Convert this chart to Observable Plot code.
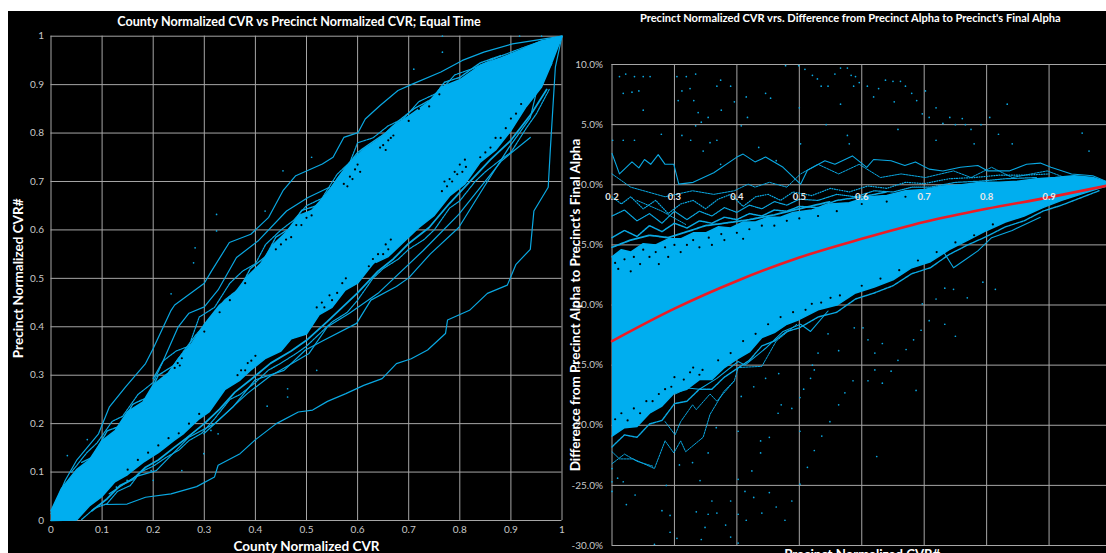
<!DOCTYPE html>
<html><head><meta charset="utf-8">
<script src="https://cdn.jsdelivr.net/npm/d3@7"></script>
<script src="https://cdn.jsdelivr.net/npm/@observablehq/plot@0.6"></script>
<style>
html,body{margin:0;padding:0;background:#fff;overflow:hidden}
#wrap{position:relative;width:1106px;height:553px;overflow:hidden}
#a,#b{position:absolute;top:11px}
#a{left:8px}#b{left:567px}
svg{display:block;font-family:Lato,"Open Sans",sans-serif}
</style></head><body><div id="wrap"><div id="a"></div><div id="b"></div></div>
<script>
const BLUE="#00aeef", DOT="#0aa8e2", GRID="#a6a6a6", LABEL="#c8c8c8";
// ---- left panel ----
const leftTicks=[0,.1,.2,.3,.4,.5,.6,.7,.8,.9,1];
const leftMassTop=[[0,.02],[.02,.065],[.05,.105],[.075,.125],[.1,.165],[.125,.185],[.15,.225],[.18,.245],[.2,.28],[.23,.305],[.25,.335],[.275,.365],[.3,.405],[.33,.445],[.36,.47],[.385,.505],[.41,.53],[.435,.57],[.46,.595],[.485,.63],[.51,.64],[.54,.675],[.56,.705],[.59,.745],[.61,.765],[.645,.79],[.67,.815],[.7,.835],[.74,.865],[.765,.895],[.8,.91],[.84,.94],[.88,.955],[.92,.972],[.96,.99],[1,1]];
const leftMassBottom=[[0,0],[.05,.001],[.075,.03],[.1,.05],[.125,.08],[.15,.095],[.18,.12],[.21,.14],[.24,.165],[.26,.18],[.29,.21],[.31,.225],[.34,.27],[.37,.29],[.39,.31],[.42,.335],[.45,.35],[.47,.375],[.5,.385],[.525,.425],[.55,.44],[.575,.475],[.6,.49],[.63,.53],[.66,.545],[.69,.575],[.72,.605],[.75,.63],[.78,.67],[.81,.695],[.84,.74],[.87,.765],[.9,.805],[.93,.855],[.96,.895],[.98,.945],[1,1]];
const leftU1=[[.04,.1],[.07,.14],[.09,.16],[.12,.205],[.14,.215],[.17,.26],[.2,.285],[.22,.33],[.245,.35],[.27,.36],[.29,.42],[.32,.44],[.35,.49],[.375,.515],[.4,.53],[.42,.57],[.45,.6],[.475,.62],[.5,.65],[.53,.665],[.56,.715],[.585,.74],[.6,.78],[.63,.79],[.66,.815],[.69,.83],[.72,.865],[.76,.885],[.79,.92],[.83,.935],[.87,.955],[.92,.975],[.96,.99]];
const leftU2=[[.06,.12],[.08,.13],[.11,.185],[.135,.195],[.16,.24],[.19,.255],[.21,.3],[.24,.32],[.26,.35],[.285,.385],[.31,.415],[.34,.455],[.37,.48],[.39,.52],[.42,.545],[.44,.585],[.47,.605],[.49,.64],[.52,.65],[.55,.69],[.57,.72],[.6,.76],[.62,.775],[.655,.8],[.68,.825],[.71,.85],[.745,.87],[.77,.905],[.8,.915],[.84,.945],[.88,.96]];
const leftL1=[[.06,.002],[.085,.025],[.11,.035],[.13,.06],[.155,.072],[.175,.1],[.2,.112],[.225,.13],[.25,.145],[.27,.165],[.295,.18],[.32,.21],[.35,.25],[.37,.26],[.4,.285],[.425,.31],[.45,.325],[.48,.345],[.5,.36],[.53,.39],[.55,.41],[.58,.43],[.6,.455],[.63,.5],[.65,.52],[.68,.54],[.7,.56],[.73,.58],[.75,.6],[.78,.645],[.8,.66],[.83,.7],[.85,.72],[.88,.745],[.9,.76],[.93,.81],[.95,.84],[.975,.89]];
const leftL3=[[.08,.02],[.11,.045],[.135,.072],[.16,.085],[.185,.11],[.21,.125],[.24,.15],[.265,.17],[.3,.2],[.33,.23],[.36,.265],[.39,.29],[.43,.325],[.47,.35],[.5,.372],[.54,.41],[.57,.44],[.6,.47],[.64,.515],[.67,.54],[.7,.572],[.74,.605],[.78,.655],[.82,.7],[.86,.745],[.9,.785],[.94,.84],[.97,.89]];
const leftSpecks=[[.765,.68],[.77,.7],[.775,.69],[.78,.705],[.785,.7],[.79,.72],[.795,.715],[.8,.735],[.805,.72],[.81,.745],[.812,.73],[.622,.525],[.63,.54],[.635,.53],[.64,.55],[.65,.55],[.655,.57],[.66,.56],[.665,.58],[.365,.3],[.372,.31],[.38,.31],[.385,.325],[.392,.33],[.4,.34],[.52,.44],[.53,.45],[.535,.44],[.545,.465],[.55,.455],[.56,.47],[.57,.49],[.577,.5],[.573,.695],[.58,.69],[.585,.71],[.59,.705],[.595,.725],[.6,.735],[.605,.72],[.644,.77],[.65,.775],[.655,.765],[.66,.785],[.665,.79],[.67,.795],[.242,.315],[.248,.325],[.252,.32],[.256,.335],[.44,.56],[.45,.57],[.46,.58],[.47,.585],[.48,.61],[.49,.61],[.5,.625],[.51,.63],[.84,.75],[.85,.76],[.86,.77],[.87,.79],[.88,.79],[.89,.81],[.9,.83],[.91,.84],[.92,.86],[.15,.105],[.17,.125],[.19,.14],[.21,.155],[.23,.17],[.25,.18],[.27,.2],[.29,.22],[.7,.825],[.72,.85],[.74,.855],[.76,.88],[.33,.43],[.3,.39],[.35,.455],[.38,.49]];
const leftLineA=[[0,.014],[.028,.083],[.05,.124],[.093,.179],[.114,.234],[.146,.276],[.185,.324],[.2,.355],[.235,.434],[.242,.445],[.3,.49],[.314,.515],[.349,.574],[.391,.591],[.426,.626],[.454,.681],[.479,.712],[.531,.736],[.552,.75],[.573,.791],[.601,.801],[.615,.829],[.644,.857],[.679,.888],[.707,.901],[.763,.926],[.805,.95],[.847,.967],[.903,.984],[1,1]];
const leftLineB=[[.107,.033],[.149,.034],[.185,.048],[.235,.055],[.285,.07],[.32,.09],[.327,.114],[.37,.138],[.399,.166],[.441,.2],[.484,.224],[.512,.228],[.541,.246],[.577,.262],[.612,.279],[.648,.293],[.676,.324],[.705,.334],[.737,.352],[.772,.386],[.776,.414],[.819,.434],[.854,.469],[.893,.486],[.91,.529],[.938,.56],[.945,.639],[.973,.688],[.977,.763],[.987,.936],[1,1]];
const leftLineC=[[.2,.293],[.22,.331],[.249,.4],[.27,.428],[.3,.441],[.327,.476],[.363,.543],[.405,.577],[.461,.639],[.503,.667],[.545,.688]];
const leftLineD=[[.299,.179],[.356,.234],[.399,.29],[.456,.31],[.498,.352],[.534,.372],[.598,.407],[.626,.455],[.676,.483],[.7,.501],[.742,.55],[.798,.605],[.847,.688],[.896,.77],[.938,.832],[.952,.894],[.98,.943]];
const leftLineE=[[.114,.055],[.164,.09],[.206,.103],[.27,.172],[.32,.2],[.384,.262],[.427,.297],[.505,.345],[.541,.4],[.584,.428],[.64,.469],[.728,.557],[.798,.632],[.882,.743],[.938,.791]];
const leftDots=[[.282,.563],[.324,.632],[.279,.532],[.454,.722],[.51,.75],[.766,.967],[.766,1],[.71,.932],[.419,.639],[.324,.598],[.917,1],[.96,1],[.235,.468],[.032,.134],[.071,.167],[.463,.272],[.463,.255],[.423,.236],[.299,.138],[.256,.103],[.2,.083],[.196,.103],[.149,.083],[.327,.179],[.313,.186],[.52,.31],[.128,.069]];
// ---- right panel ----
const rightXTicks=[.2,.3,.4,.5,.6,.7,.8,.9,1];
const rightXLabels=[.2,.3,.4,.5,.6,.7,.8,.9];
const rightYTicks=[10,5,0,-5,-10,-15,-20,-25,-30];
const rightMassTop=[[.2,-6],[.215,-5.4],[.23,-5.6],[.25,-4.9],[.27,-5],[.29,-4.5],[.31,-4.5],[.33,-4],[.35,-4],[.37,-3.5],[.39,-3.6],[.41,-3.1],[.43,-3.1],[.45,-2.7],[.47,-2.7],[.49,-2.3],[.52,-2.1],[.55,-1.6],[.58,-1.5],[.61,-1],[.64,-.9],[.67,-.5],[.7,-.4],[.73,-.1],[.76,0],[.79,.2],[.82,.2],[.85,.3],[.88,.5],[.91,.6],[.94,.75],[.97,.6],[1,.1]];
const rightMassBottom=[[.2,-20.9],[.22,-20.2],[.24,-20.1],[.26,-19],[.28,-18.4],[.3,-17.3],[.32,-17],[.34,-16.2],[.36,-16.2],[.38,-15.2],[.4,-14.5],[.42,-13.9],[.44,-12.7],[.46,-12.3],[.48,-11.6],[.5,-11.2],[.53,-10.4],[.56,-10],[.59,-9],[.62,-8.5],[.65,-7.9],[.68,-6.9],[.71,-6.4],[.74,-5.4],[.77,-4.6],[.8,-3.8],[.83,-3.1],[.86,-2.6],[.89,-1.9],[.92,-1.3],[.95,-.8],[.98,-.3],[1,0]];
const redX=[.2,.3,.4,.5,.6,.7,.8,.9,1];
const redY=[-13,-10.3,-8,-6.05,-4.5,-3.1,-2,-1.05,0];
const rightSpecks=[[.205,-6.5],[.21,-7],[.22,-6.2],[.23,-7.2],[.235,-6],[.245,-6.6],[.25,-5.4],[.26,-6],[.27,-5.6],[.275,-6.6],[.285,-5.2],[.29,-6],[.3,-5],[.31,-5.6],[.32,-5],[.33,-4.6],[.34,-5.2],[.355,-4.4],[.36,-5],[.375,-4.1],[.38,-4.6],[.4,-4],[.41,-4.5],[.42,-3.7],[.44,-3.4],[.46,-3.4],[.48,-3],[.5,-2.8],[.53,-2.6],[.56,-2.2],[.6,-1.6],[.64,-1.4],[.67,-1],[.205,-19.5],[.215,-19],[.225,-19.6],[.235,-18.6],[.245,-19],[.255,-18],[.265,-18],[.275,-17.4],[.285,-17],[.295,-16.8],[.3,-16],[.315,-16.2],[.325,-15.6],[.33,-15.2],[.34,-15.8],[.345,-15.4],[.37,-14.6],[.39,-14],[.41,-13],[.43,-12.4],[.45,-11.6],[.47,-11],[.49,-10.6],[.51,-10.4],[.52,-9.9],[.535,-9.8],[.55,-9.4],[.565,-9.2],[.6,-8.4],[.63,-7.8],[.66,-7.1],[.69,-6.3],[.72,-5.6],[.75,-4.8],[.78,-4.2],[.81,-3.3]];
const rightU1=[[.2,-1],[.215,-1.6],[.23,-1],[.25,-2],[.27,-1.3],[.29,-2.4],[.31,-1.6],[.33,-1.3],[.35,-2],[.37,-1.2],[.39,-.8],[.41,-1.8],[.43,-1],[.45,-.8],[.47,-1.3],[.49,-.6],[.52,-.9],[.55,-.3],[.58,-.6],[.61,-.1],[.64,-.3],[.67,.2],[.7,.1],[.74,.5],[.78,.6],[.82,.8],[.86,.8],[.9,.9]];
const rightU2=[[.2,-2.6],[.22,-2.1],[.24,-3],[.26,-2.4],[.28,-3.2],[.3,-2.2],[.32,-2.9],[.34,-2.2],[.36,-2.6],[.38,-1.9],[.4,-2.3],[.42,-1.7],[.44,-2],[.46,-1.4],[.48,-1.7],[.5,-1.2],[.53,-1.3],[.56,-.8],[.59,-1],[.62,-.5],[.65,-.6],[.68,-.2],[.71,-.2],[.75,.2],[.79,.3],[.83,.5],[.88,.6]];
const rightU3=[[.2,-4.4],[.22,-3.8],[.24,-4.3],[.26,-3.4],[.28,-3.9],[.3,-3.2],[.32,-3.6],[.34,-3],[.36,-3.2],[.38,-2.7],[.4,-2.9],[.42,-2.4],[.44,-2.6],[.46,-2.1],[.48,-2.2],[.5,-1.8],[.53,-1.9],[.56,-1.3],[.6,-1],[.64,-.6]];
const rightU4=[[.2,-5.2],[.23,-4.6],[.26,-4.2],[.29,-4.4],[.32,-3.9],[.35,-3.4],[.38,-3.2],[.42,-2.9],[.46,-2.5],[.5,-2],[.55,-1.4]];
const rightL1=[[.2,-21.8],[.22,-20.8],[.24,-21],[.26,-19.9],[.28,-19.6],[.3,-18.2],[.32,-18],[.34,-17],[.36,-17],[.38,-16],[.4,-15.3],[.42,-14.6],[.44,-13.4],[.46,-13],[.48,-12.2],[.5,-11.9],[.53,-11],[.56,-10.6],[.59,-9.5],[.62,-9],[.65,-8.4],[.68,-7.4],[.71,-6.9],[.74,-5.8],[.77,-5],[.8,-4.3],[.83,-3.5],[.86,-3],[.89,-2.2],[.92,-1.7],[.95,-1.1],[.98,-.5]];
const rightLine1=[[.2,2.6],[.212,.9],[.232,1.9],[.243,1.4],[.252,2.1],[.262,1.7],[.274,2.5],[.285,1.7],[.299,1.7],[.307,.05],[.33,.2],[.363,1],[.4,2.3],[.41,2.55],[.429,1.9],[.446,2.3],[.474,1.45],[.502,.05],[.513,1.2],[.541,2],[.557,1.7],[.585,2.4],[.608,1.45],[.619,2.1],[.647,2],[.669,1.6],[.686,1.9],[.708,1.3],[.73,1.15],[.758,1.45],[.786,1.6],[.802,1.15],[.836,1.15],[.864,1.7],[.886,1.8],[.903,1.45],[.936,.9],[.97,.75],[1,.1]];
const rightLine2=[[.2,.9],[.23,-.2],[.285,-1],[.329,-.5],[.363,-.8],[.396,-.5],[.418,.05],[.429,-.2],[.452,.2],[.48,-.2],[.502,.9],[.53,1.7],[.563,.9],[.596,1.7],[.63,.6],[.663,.9],[.702,.6],[.747,1.15],[.775,.6],[.808,1.45],[.841,.6],[.897,1.15],[.925,.6],[.953,.6]];
const rightLine3=[[.24,-1.3],[.28,-2.2],[.318,-3.3]];
const rightLine4=[[.2,-22.2],[.212,-22.8],[.234,-22.8],[.268,-23.6],[.285,-21.3],[.299,-22.3],[.31,-21.3],[.318,-22.2],[.346,-21],[.357,-19.1],[.379,-17.2],[.396,-16.3],[.402,-15.2],[.44,-15.1],[.463,-13],[.496,-11.6]];
const rightLine5=[[.285,-19.7],[.301,-20.8],[.31,-19.7],[.329,-18.3],[.335,-18.7],[.357,-17.4],[.368,-18],[.396,-16.3]];
const rightLine6=[[.301,-17.4],[.321,-16.9],[.34,-17],[.368,-16.1],[.402,-14.7],[.413,-15],[.446,-13.6],[.474,-12.2],[.502,-11.6],[.518,-12.2],[.546,-10.5]];
const rightLine7=[[.674,-6.6],[.73,-5.5],[.747,-6.9],[.786,-5.5],[.808,-4.4],[.841,-3.8],[.886,-2.7]];
const rightLine8=[[.2,-23.2],[.22,-22.4],[.24,-23],[.265,-23.4]];
const rightDotsUpper=[[.212,9],[.222,9.2],[.236,9],[.25,9],[.261,9],[.218,7.6],[.232,7.7],[.243,7.8],[.25,6.2],[.304,9],[.319,9],[.334,9.2],[.312,7.8],[.306,7],[.331,7],[.325,8],[.338,6],[.354,5.6],[.343,5.2],[.334,4.9],[.374,8.7],[.368,8.2],[.39,8.2],[.396,6.9],[.415,7.3],[.375,6.2],[.417,5.6],[.407,4.9],[.446,7.6],[.454,7.2],[.5,6.4],[.478,9.9],[.499,9.9],[.509,9.6],[.521,9.1],[.529,8.8],[.535,8.2],[.546,8.2],[.557,9.2],[.566,9.7],[.577,9.7],[.583,9.1],[.59,9],[.596,8.5],[.587,8.2],[.609,8.2],[.627,8],[.638,8.7],[.65,8.6],[.662,8.6],[.67,8.2],[.68,7.6],[.688,7],[.702,7.8],[.566,6.7],[.619,7.3],[.652,6.9],[.697,5.9],[.719,6.4],[.708,5.6],[.73,5.1],[.741,5.6],[.761,5.5],[.766,5],[.75,5],[.791,5],[.805,5.6],[.833,6.7],[.775,4.6],[.819,4.2],[.953,4.3],[.543,5],[.577,4.1],[.658,4.6],[.719,3.7],[.78,3.4],[.841,3.4],[.201,3.7],[.218,3.7],[.236,3.7],[.279,4.2],[.312,4.1],[.326,3.7],[.357,3.5],[.368,3.7],[.346,2.8],[.374,1.7],[.435,3.1],[.463,2],[.502,3.4],[.58,3.4],[.964,2.8]];
const rightDotsLower=[[.814,-8.7],[.794,-8.1],[.769,-9.4],[.747,-8.7],[.733,-8.6],[.719,-9.5],[.697,-9.9],[.708,-11.3],[.733,-11.6],[.75,-12.6],[.683,-12.9],[.671,-13.7],[.695,-12.1],[.658,-14.6],[.647,-15.5],[.621,-15.4],[.61,-16.3],[.687,-17.1],[.633,-16.5],[.621,-14],[.633,-13.2],[.61,-12.9],[.602,-11.9],[.588,-11.9],[.563,-13.8],[.546,-12.4],[.53,-14],[.524,-15.4],[.518,-16.1],[.586,-16.3],[.573,-17.3],[.563,-18.3],[.549,-19.7],[.536,-20.9],[.624,-22.6],[.524,-22.1],[.513,-23.5],[.501,-20.5],[.501,-17.7],[.488,-18.6],[.471,-18.3],[.466,-19],[.452,-21],[.438,-21.3],[.438,-22.3],[.424,-23.8],[.402,-24.5],[.413,-25.5],[.452,-25.6],[.427,-26],[.501,-24.9],[.488,-26.3],[.477,-27.9],[.463,-26.8],[.44,-27.3],[.415,-27.9],[.402,-27.4],[.39,-26.3],[.382,-28.3],[.368,-27.3],[.36,-26.3],[.354,-27.4],[.335,-27.2],[.349,-28.5],[.343,-29.5],[.39,-29.3],[.402,-29.8],[.304,-29.4],[.293,-28.9],[.268,-29.9],[.293,-27.5],[.28,-27.1],[.223,-26.6],[.237,-25.8],[.287,-25],[.341,-24.6],[.329,-23.1],[.308,-23.3],[.354,-22.3],[.367,-20.2],[.402,-20.5],[.407,-17.6],[.427,-16.8],[.446,-16.1],[.467,-15.7],[.507,-17],[.521,-15],[.2,-25.5],[.2,-24.7],[.218,-24.7],[.209,-24.4],[.2,-23.6]];

const idx=a=>a.map((_,i)=>i);
const thin=(data,w=1.2,dash)=>Plot.line(data,{stroke:DOT,strokeWidth:w,strokeDasharray:dash,curve:"linear"});
const dots=(data,r=.85)=>Plot.dot(data,{r,fill:DOT,stroke:"none"});
const mass=(top,bottom)=>Plot.line([...top,...bottom.slice().reverse()],{fill:BLUE,stroke:BLUE,strokeWidth:1.5,curve:"linear"});
const specks=(data)=>Plot.dot(data,{r:1.1,fill:"#000",stroke:"none"});

const left=Plot.plot({
  width:559,height:542,marginLeft:42.5,marginRight:5.5,marginTop:24.7,marginBottom:33,
  style:{background:"#000",color:LABEL,fontFamily:"Lato, sans-serif",fontSize:"10px"},
  x:{domain:[0,1],range:[42.5,553.5]},y:{domain:[0,1],range:[509,24.7]},
  marks:[
    Plot.gridX(leftTicks,{stroke:GRID,strokeOpacity:1,strokeWidth:1}),
    Plot.gridY(leftTicks,{stroke:GRID,strokeOpacity:1,strokeWidth:1}),
    thin(leftU1,1.2,"2 1"),thin(leftU2,1.4,"3 1"),thin(leftL1,1.2,"2 1"),thin(leftL3,1.8),
    thin(leftLineA),thin(leftLineB),thin(leftLineC),thin(leftLineD),thin(leftLineE),
    dots(leftDots),
    mass(leftMassTop,leftMassBottom),
    specks(leftSpecks),
    Plot.axisX({ticks:leftTicks,tickSize:0,tickPadding:5,tickFormat:d=>String(d),fill:LABEL,label:null}),
    Plot.axisY({ticks:leftTicks,tickSize:0,tickPadding:7,tickFormat:d=>String(d),fill:LABEL,label:null}),
    Plot.text(["County Normalized CVR vs Precinct Normalized CVR; Equal Time"],{frameAnchor:"top",dx:-7.5,dy:-19.5,fill:"#fff",fontWeight:"bold",fontSize:12.6}),
    Plot.text(["County Normalized CVR"],{frameAnchor:"bottom",dy:30,fill:"#fff",fontWeight:"bold",fontSize:13.5}),
    Plot.text(["Precinct Normalized CVR#"],{frameAnchor:"left",textAnchor:"middle",dx:-32,rotate:-90,fill:"#fff",fontWeight:"bold",fontSize:13.5})
  ]
});
document.getElementById("a").append(left);

const right=Plot.plot({
  width:539,height:542,marginLeft:44.5,marginRight:0,marginTop:53,marginBottom:8,
  style:{background:"#000",color:LABEL,fontFamily:"Lato, sans-serif",fontSize:"10px"},
  x:{domain:[.2,1],range:[44.5,544],axis:null},y:{domain:[-30,10],range:[534,53]},
  marks:[
    Plot.gridX(rightXTicks,{stroke:GRID,strokeOpacity:1,strokeWidth:1}),
    Plot.gridY(rightYTicks,{stroke:GRID,strokeOpacity:1,strokeWidth:1}),
    dots(rightDotsUpper),dots(rightDotsLower),
    thin(rightU1,1.2,"1 1.5"),thin(rightU2,1.2,"1 1"),thin(rightU3,1.5,"2 1"),thin(rightU4,1.8,"4 1"),thin(rightL1,1.4,"3 1"),
    thin(rightLine1,1.1),thin(rightLine2,1,"2 1"),thin(rightLine3,1,"1 1"),thin(rightLine4,1,"2 1"),thin(rightLine5,1,"2 1"),thin(rightLine6,1.1),thin(rightLine7,1.1),thin(rightLine8,1,"2 1"),
    mass(rightMassTop,rightMassBottom),
    specks(rightSpecks),
    Plot.line(idx(redX),{x:i=>redX[i],y:i=>redY[i],stroke:"#ed1c24",strokeWidth:2.6,curve:"monotone-x"}),
    Plot.text(rightXLabels,{x:d=>d,y:0,dy:12,text:d=>String(d),fill:"#e8e8e8",fontWeight:"bold",fontSize:9.5}),
    Plot.axisY({ticks:rightYTicks,tickSize:0,tickPadding:9,tickFormat:d=>d.toFixed(1)+"%",fill:LABEL,label:null}),
    Plot.text(["Precinct Normalized CVR vrs. Difference from Precinct Alpha to Precinct's Final Alpha"],{frameAnchor:"top",dx:-9,dy:-50.5,fill:"#fff",fontWeight:"bold",fontSize:11.1}),
    Plot.text(["Precinct Normalized CVR#"],{frameAnchor:"bottom",dx:3,dy:13,fill:"#fff",fontWeight:"bold",fontSize:13.2}),
    Plot.text(["Difference from Precinct Alpha to Precinct's Final Alpha"],{frameAnchor:"left",textAnchor:"middle",dx:-36,rotate:-90,fill:"#fff",fontWeight:"bold",fontSize:13.5})
  ]
});
document.getElementById("b").append(right);
</script></body></html>
